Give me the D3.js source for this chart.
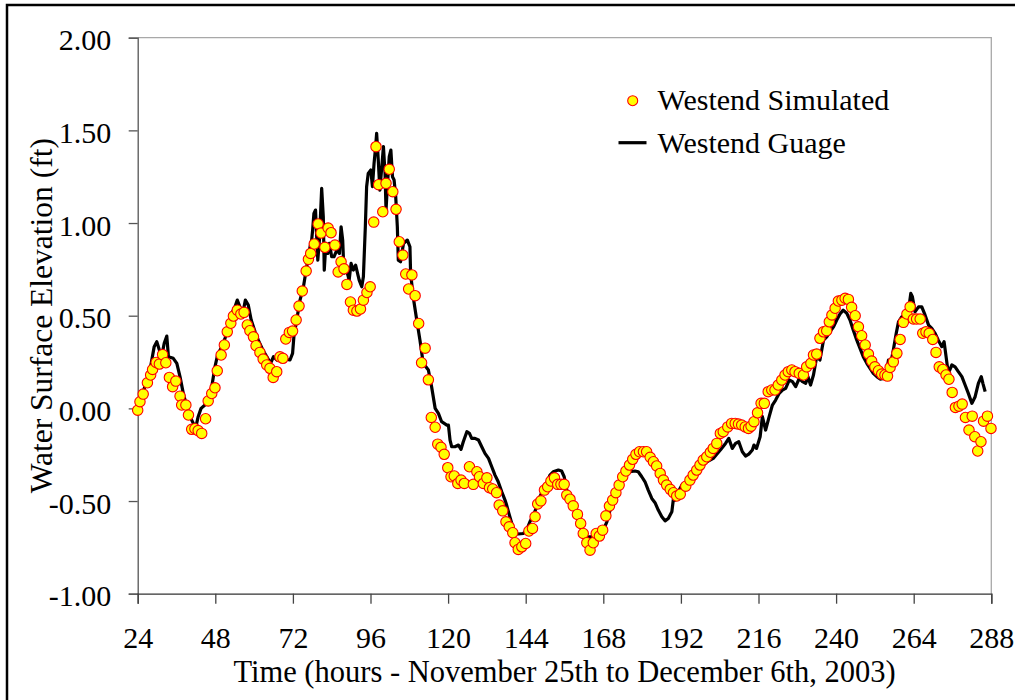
<!DOCTYPE html>
<html>
<head>
<meta charset="utf-8">
<script src="https://cdn.jsdelivr.net/npm/d3@7"></script>
<style>
  html, body { margin: 0; padding: 0; background: #fff; }
  svg { display: block; }
  text { font-family: "Liberation Serif", "Times New Roman", Times, Tinos, "Nimbus Roman", "DejaVu Serif", serif; fill: #000; }
</style>
</head>
<body>
<svg id="chart" width="1015" height="700"></svg>
<script>
// Simulated water surface elevation (ft) at the Westend station, by hour
const simHours = [
  24.0, 24.7, 25.7, 27.0, 28.0, 28.6, 29.7, 30.7, 31.7, 32.7, 33.8, 34.8, 35.8, 37.1, 37.6, 38.9, 39.7, 40.7, 41.7, 42.7,
  43.8, 45.0, 45.8, 46.9, 47.9, 48.6, 49.8, 50.8, 51.7, 52.8, 53.6, 54.8, 55.9, 56.9, 57.9, 58.7, 59.8, 60.6, 61.8, 62.8,
  63.9, 64.9, 65.9, 67.0, 68.0, 68.9, 69.8, 70.9, 71.9, 73.0, 73.9, 74.9, 76.1, 76.8, 77.5, 78.6, 79.8, 80.7, 81.9, 82.9,
  83.8, 85.0, 86.0, 86.9, 87.8, 88.7, 89.8, 90.7, 91.8, 92.9, 93.8, 94.9, 95.9, 97.0, 97.7, 98.5, 99.8, 100.8, 101.8, 102.9,
  103.9, 104.9, 106.0, 106.9, 107.8, 108.8, 109.8, 110.9, 111.8, 112.9, 113.9, 114.8, 116.0, 116.8, 117.8, 118.8, 119.9, 120.9, 121.9, 123.0,
  124.0, 125.0, 126.6, 127.8, 128.9, 129.7, 130.9, 132.0, 132.8, 133.8, 135.0, 135.8, 136.9, 137.9, 138.9, 140.0, 140.7, 141.7, 142.8, 144.0,
  145.0, 146.1, 146.9, 147.7, 148.7, 149.8, 150.8, 151.8, 152.9, 153.9, 154.9, 155.9, 156.7, 157.7, 158.7, 160.0, 161.0, 161.8, 162.9, 163.9,
  164.9, 165.8, 166.8, 167.8, 168.8, 169.9, 170.9, 171.9, 172.9, 174.0, 175.0, 176.1, 177.1, 178.1, 179.2, 180.4, 181.4, 182.5, 183.5, 184.5,
  185.6, 186.6, 187.6, 188.7, 189.7, 190.7, 191.8, 193.5, 194.8, 195.8, 196.9, 197.9, 198.9, 200.0, 201.1, 202.0, 203.1, 204.2, 205.1, 206.5,
  207.7, 208.8, 209.8, 210.8, 211.9, 212.9, 213.7, 214.6, 215.7, 216.8, 217.8, 219.0, 220.1, 221.1, 222.1, 223.2, 224.2, 225.2, 226.3, 227.3,
  228.6, 229.9, 230.9, 232.2, 233.0, 234.0, 235.0, 236.1, 237.1, 237.9, 238.7, 239.7, 240.7, 241.8, 242.8, 243.8, 244.8, 245.9, 246.9, 247.9,
  249.0, 250.0, 251.0, 252.0, 253.1, 254.1, 255.1, 255.9, 256.7, 257.7, 258.8, 259.8, 260.8, 261.9, 262.9, 263.9, 264.9, 266.0, 266.8, 267.8,
  268.8, 269.9, 270.9, 271.9, 273.0, 274.0, 274.9, 275.9, 276.9, 278.0, 279.0, 280.0, 281.1, 282.1, 282.9, 283.8, 284.8, 285.6, 286.8, 287.9
];
const simValues = [
  -0.01, 0.036, 0.077, 0.138, 0.18, 0.21, 0.248, 0.239, 0.29, 0.246, 0.167, 0.117, 0.147, 0.066, 0.018, 0.018, -0.036, -0.113, -0.11, -0.12,
  -0.135, -0.056, 0.04, 0.08, 0.111, 0.203, 0.288, 0.342, 0.413, 0.459, 0.498, 0.53, 0.509, 0.518, 0.45, 0.419, 0.386, 0.338, 0.302, 0.266,
  0.234, 0.216, 0.167, 0.198, 0.278, 0.27, 0.374, 0.41, 0.417, 0.477, 0.552, 0.633, 0.741, 0.804, 0.836, 0.887, 0.995, 0.946, 0.869, 0.973,
  0.948, 0.881, 0.736, 0.791, 0.753, 0.669, 0.574, 0.53, 0.525, 0.536, 0.584, 0.625, 0.656, 1.005, 1.412, 1.207, 1.061, 1.214, 1.29, 1.169,
  1.074, 0.899, 0.827, 0.725, 0.644, 0.72, 0.608, 0.458, 0.246, 0.325, 0.154, -0.049, -0.102, -0.193, -0.21, -0.248, -0.32, -0.369, -0.365, -0.405,
  -0.387, -0.405, -0.315, -0.41, -0.342, -0.369, -0.405, -0.375, -0.428, -0.435, -0.455, -0.522, -0.553, -0.612, -0.639, -0.671, -0.725, -0.761, -0.747, -0.729,
  -0.662, -0.648, -0.585, -0.516, -0.499, -0.441, -0.423, -0.392, -0.375, -0.41, -0.41, -0.41, -0.468, -0.49, -0.526, -0.572, -0.621, -0.675, -0.725, -0.765,
  -0.725, -0.675, -0.689, -0.657, -0.58, -0.527, -0.495, -0.455, -0.414, -0.369, -0.338, -0.306, -0.275, -0.248, -0.234, -0.234, -0.234, -0.264, -0.288, -0.311,
  -0.351, -0.387, -0.414, -0.437, -0.455, -0.473, -0.463, -0.42, -0.387, -0.36, -0.333, -0.306, -0.279, -0.261, -0.237, -0.216, -0.189, -0.135, -0.126, -0.1,
  -0.081, -0.081, -0.085, -0.09, -0.1, -0.108, -0.096, -0.072, -0.024, 0.027, 0.027, 0.09, 0.099, 0.099, 0.126, 0.153, 0.18, 0.198, 0.207, 0.198,
  0.189, 0.18, 0.224, 0.243, 0.288, 0.293, 0.378, 0.413, 0.419, 0.467, 0.504, 0.54, 0.579, 0.584, 0.594, 0.588, 0.545, 0.5, 0.44, 0.392,
  0.342, 0.293, 0.255, 0.224, 0.203, 0.185, 0.18, 0.174, 0.221, 0.251, 0.297, 0.372, 0.464, 0.509, 0.548, 0.482, 0.482, 0.482, 0.405, 0.413,
  0.405, 0.372, 0.302, 0.224, 0.21, 0.18, 0.157, 0.086, 0.005, 0.012, 0.023, -0.049, -0.117, -0.042, -0.153, -0.23, -0.18, -0.069, -0.042, -0.108
];

// Measured gauge record at the Westend station
const gaugeHours = [
  24.0, 25.7, 27.8, 29.1, 29.9, 30.7, 31.4, 32.2, 33.0, 33.5, 35.0, 36.1, 37.1, 38.1, 39.2, 40.2, 41.2, 42.0, 42.7, 43.6,
  44.8, 45.8, 46.9, 47.9, 48.7, 50.0, 51.0, 52.0, 53.1, 54.1, 54.8, 55.6, 56.5, 57.3, 58.2, 59.1, 60.3, 61.3, 62.7, 63.9,
  65.1, 66.0, 67.0, 68.0, 69.0, 70.1, 71.1, 71.9, 72.3, 73.2, 74.2, 75.2, 76.1, 77.3, 77.8, 78.1, 78.5, 79.0, 79.4, 79.7,
  80.2, 80.9, 81.4, 81.7, 82.2, 82.8, 83.3, 84.0, 84.7, 85.6, 86.4, 86.9, 87.4, 87.8, 88.6, 89.4, 90.0, 90.7, 91.4, 92.0,
  92.5, 93.3, 93.8, 94.4, 94.8, 95.3, 96.1, 96.6, 97.1, 97.5, 97.9, 98.4, 98.9, 99.5, 100.0, 100.5, 100.8, 101.2, 101.8, 102.3,
  102.8, 103.3, 103.8, 104.3, 104.6, 105.3, 106.2, 107.4, 108.2, 108.4, 109.2, 110.3, 111.3, 112.3, 113.9, 114.9, 116.0, 117.0, 118.0, 119.6,
  120.1, 120.6, 121.1, 122.1, 123.2, 124.0, 124.7, 125.8, 126.6, 127.3, 128.3, 129.4, 130.4, 131.4, 132.5, 133.5, 134.5, 135.5, 136.6, 137.6,
  138.1, 138.8, 139.7, 140.7, 141.7, 143.3, 144.3, 145.3, 146.4, 147.4, 148.4, 149.5, 150.5, 151.5, 152.5, 154.1, 155.1, 155.9, 156.7, 157.7,
  158.7, 159.8, 160.8, 161.8, 162.9, 163.9, 164.9, 166.0, 167.0, 168.0, 169.1, 170.1, 171.1, 172.2, 173.2, 174.2, 175.3, 176.3, 177.8, 178.8,
  179.9, 180.9, 181.9, 183.0, 184.0, 185.0, 186.1, 187.1, 188.1, 189.2, 189.7, 190.2, 191.2, 192.3, 193.3, 194.3, 195.4, 196.9, 198.9, 202.0,
  204.2, 205.8, 206.8, 207.9, 208.9, 209.9, 211.0, 212.0, 213.0, 214.1, 214.6, 215.4, 216.5, 217.2, 218.2, 219.3, 220.3, 221.3, 222.4, 223.4,
  224.4, 225.5, 226.5, 227.5, 228.6, 229.6, 230.6, 231.3, 232.1, 233.0, 234.0, 235.0, 236.1, 237.1, 238.1, 239.2, 240.2, 241.2, 242.2, 243.3,
  244.3, 245.3, 246.4, 247.4, 248.4, 249.5, 250.5, 251.5, 252.6, 253.6, 254.6, 255.7, 256.2, 256.9, 257.7, 258.6, 259.3, 260.3, 261.3, 262.4,
  263.1, 263.6, 264.4, 265.5, 266.5, 267.5, 268.6, 269.6, 270.6, 271.6, 272.7, 273.4, 274.7, 275.8, 276.8, 277.8, 278.9, 279.9, 280.9, 282.0,
  283.0, 284.0, 284.9, 285.4, 286.1
];
const gaugeValues = [
  0.0, 0.09, 0.207, 0.333, 0.36, 0.315, 0.279, 0.351, 0.39, 0.279, 0.27, 0.243, 0.17, 0.081, 0.009, -0.045, -0.081, -0.1, -0.045, 0.0,
  0.018, 0.045, 0.117, 0.224, 0.288, 0.333, 0.378, 0.432, 0.513, 0.548, 0.584, 0.548, 0.513, 0.584, 0.557, 0.477, 0.413, 0.368, 0.315, 0.279,
  0.243, 0.279, 0.261, 0.297, 0.288, 0.264, 0.261, 0.297, 0.386, 0.48, 0.584, 0.65, 0.746, 0.872, 0.908, 0.962, 1.052, 1.07, 0.908, 0.8,
  0.908, 1.187, 1.034, 0.746, 0.89, 0.836, 0.89, 0.818, 0.818, 0.854, 0.836, 0.98, 0.908, 0.729, 0.746, 0.692, 0.782, 0.746, 0.773, 0.729,
  0.692, 0.656, 0.71, 0.98, 1.196, 1.268, 1.286, 1.196, 1.322, 1.394, 1.484, 1.34, 1.178, 1.304, 1.412, 1.268, 1.07, 1.196, 1.358, 1.394,
  1.25, 1.232, 1.142, 0.98, 0.8, 0.791, 0.89, 0.908, 0.872, 0.729, 0.602, 0.477, 0.368, 0.243, 0.207, 0.117, 0.0, -0.027, -0.072, -0.09,
  -0.09, -0.171, -0.207, -0.207, -0.198, -0.221, -0.18, -0.126, -0.135, -0.162, -0.162, -0.171, -0.207, -0.243, -0.27, -0.315, -0.36, -0.396, -0.45, -0.495,
  -0.522, -0.567, -0.621, -0.671, -0.678, -0.675, -0.657, -0.612, -0.576, -0.531, -0.477, -0.432, -0.405, -0.36, -0.342, -0.333, -0.338, -0.369, -0.441, -0.486,
  -0.531, -0.576, -0.63, -0.671, -0.693, -0.693, -0.693, -0.666, -0.666, -0.657, -0.612, -0.549, -0.504, -0.459, -0.414, -0.378, -0.351, -0.342, -0.338, -0.342,
  -0.369, -0.396, -0.441, -0.486, -0.509, -0.549, -0.585, -0.607, -0.594, -0.558, -0.486, -0.495, -0.45, -0.414, -0.405, -0.378, -0.351, -0.315, -0.30, -0.27,
  -0.225, -0.189, -0.162, -0.216, -0.189, -0.18, -0.234, -0.257, -0.247, -0.225, -0.198, -0.216, -0.153, -0.045, -0.117, -0.045, 0.018, 0.045, 0.081, 0.099,
  0.108, 0.153, 0.144, 0.117, 0.162, 0.144, 0.135, 0.171, 0.126, 0.18, 0.279, 0.261, 0.368, 0.386, 0.413, 0.44, 0.477, 0.509, 0.53, 0.513,
  0.477, 0.423, 0.368, 0.324, 0.279, 0.243, 0.216, 0.189, 0.171, 0.158, 0.162, 0.207, 0.261, 0.243, 0.315, 0.405, 0.467, 0.494, 0.504, 0.53,
  0.62, 0.602, 0.521, 0.548, 0.548, 0.504, 0.449, 0.432, 0.405, 0.368, 0.333, 0.36, 0.189, 0.234, 0.224, 0.198, 0.171, 0.126, 0.081, 0.027,
  0.063, 0.135, 0.171, 0.135, 0.09
];

// Axis ticks and labels
const xTicks = [24, 48, 72, 96, 120, 144, 168, 192, 216, 240, 264, 288];
const yTicks = [-1.0, -0.5, 0.0, 0.5, 1.0, 1.5, 2.0];
const yTickLabels = ["-1.00", "-0.50", "0.00", "0.50", "1.00", "1.50", "2.00"];

const seriesNames = ["Westend Simulated", "Westend Guage"];
const xTitle = "Time (hours - November 25th to December 6th, 2003)";
const yTitle = "Water Surface Elevation (ft)";

const svg = d3.select("#chart");
const plot = { left: 137.7, right: 991.3, top: 37.7, bottom: 593.7 };
const fontSize = 30;

const x = d3.scaleLinear().domain([24, 288]).range([plot.left, plot.right]);
const y = d3.scaleLinear().domain([-1, 2]).range([plot.bottom, plot.top]);

// Outer frame
svg.append("rect")
  .attr("x", 7).attr("y", 5)
  .attr("width", 1020).attr("height", 710)
  .attr("fill", "none").attr("stroke", "#000").attr("stroke-width", 2.5);

// Light plot-area border on top and right
svg.append("path")
  .attr("d", `M${plot.left},${plot.top}H${plot.right}V${plot.bottom}`)
  .attr("fill", "none").attr("stroke", "#a8a8a8").attr("stroke-width", 1.3);

// Y axis
const yAxis = d3.axisLeft(y)
  .tickValues(yTicks)
  .tickFormat((d, i) => yTickLabels[i])
  .tickSize(9)
  .tickPadding(17.5);
const gy = svg.append("g").attr("transform", `translate(${plot.left},0)`).call(yAxis);
gy.attr("font-family", null).attr("font-size", null);
gy.select(".domain").attr("stroke", "#555").attr("stroke-width", 1.3);
gy.selectAll(".tick line").attr("stroke", "#555").attr("stroke-width", 1.3);
gy.selectAll(".tick text")
  .attr("font-size", fontSize).attr("fill", "#000").attr("dy", "0.4em");

// X axis
const xAxis = d3.axisBottom(x)
  .tickValues(xTicks)
  .tickFormat(d3.format("d"))
  .tickSize(10)
  .tickPadding(23.5);
const gx = svg.append("g").attr("transform", `translate(0,${plot.bottom})`).call(xAxis);
gx.attr("font-family", null).attr("font-size", null);
gx.select(".domain").attr("stroke", "#333").attr("stroke-width", 1.3);
gx.selectAll(".tick line").attr("stroke", "#444").attr("stroke-width", 1.3);
gx.selectAll(".tick text")
  .attr("font-size", fontSize).attr("fill", "#000");

// Axis titles
svg.append("text")
  .attr("x", (plot.left + plot.right) / 2).attr("y", 682)
  .attr("text-anchor", "middle").attr("font-size", 30.5)
  .text(xTitle);
svg.append("text")
  .attr("transform", `translate(52,${(plot.top + plot.bottom) / 2}) rotate(-90)`)
  .attr("text-anchor", "middle").attr("font-size", 31.5)
  .text(yTitle);

// Gauge line
const gaugeData = gaugeHours.map((h, i) => ({ h, v: gaugeValues[i] }));
const line = d3.line().x(d => x(d.h)).y(d => y(d.v));
svg.append("path")
  .datum(gaugeData)
  .attr("d", line)
  .attr("fill", "none").attr("stroke", "#000")
  .attr("stroke-width", 3.2).attr("stroke-linejoin", "round");

// Simulated points
const simData = simHours.map((h, i) => ({ h, v: simValues[i] }));
svg.append("g").selectAll("circle")
  .data(simData)
  .join("circle")
  .attr("cx", d => x(d.h)).attr("cy", d => y(d.v))
  .attr("r", 5.2)
  .attr("fill", "#ffff00").attr("stroke", "#ff0000").attr("stroke-width", 1.1);

// Legend
const legend = svg.append("g");
legend.append("circle")
  .attr("cx", 632.7).attr("cy", 100.7).attr("r", 5)
  .attr("fill", "#ffff00").attr("stroke", "#ff0000").attr("stroke-width", 1.1);
legend.append("text")
  .attr("x", 657.5).attr("y", 110).attr("font-size", fontSize)
  .text(seriesNames[0]);
legend.append("line")
  .attr("x1", 618.5).attr("x2", 646.5).attr("y1", 142.7).attr("y2", 142.7)
  .attr("stroke", "#000").attr("stroke-width", 3.2);
legend.append("text")
  .attr("x", 657.5).attr("y", 153.3).attr("font-size", fontSize)
  .text(seriesNames[1]);
</script>
</body>
</html>
